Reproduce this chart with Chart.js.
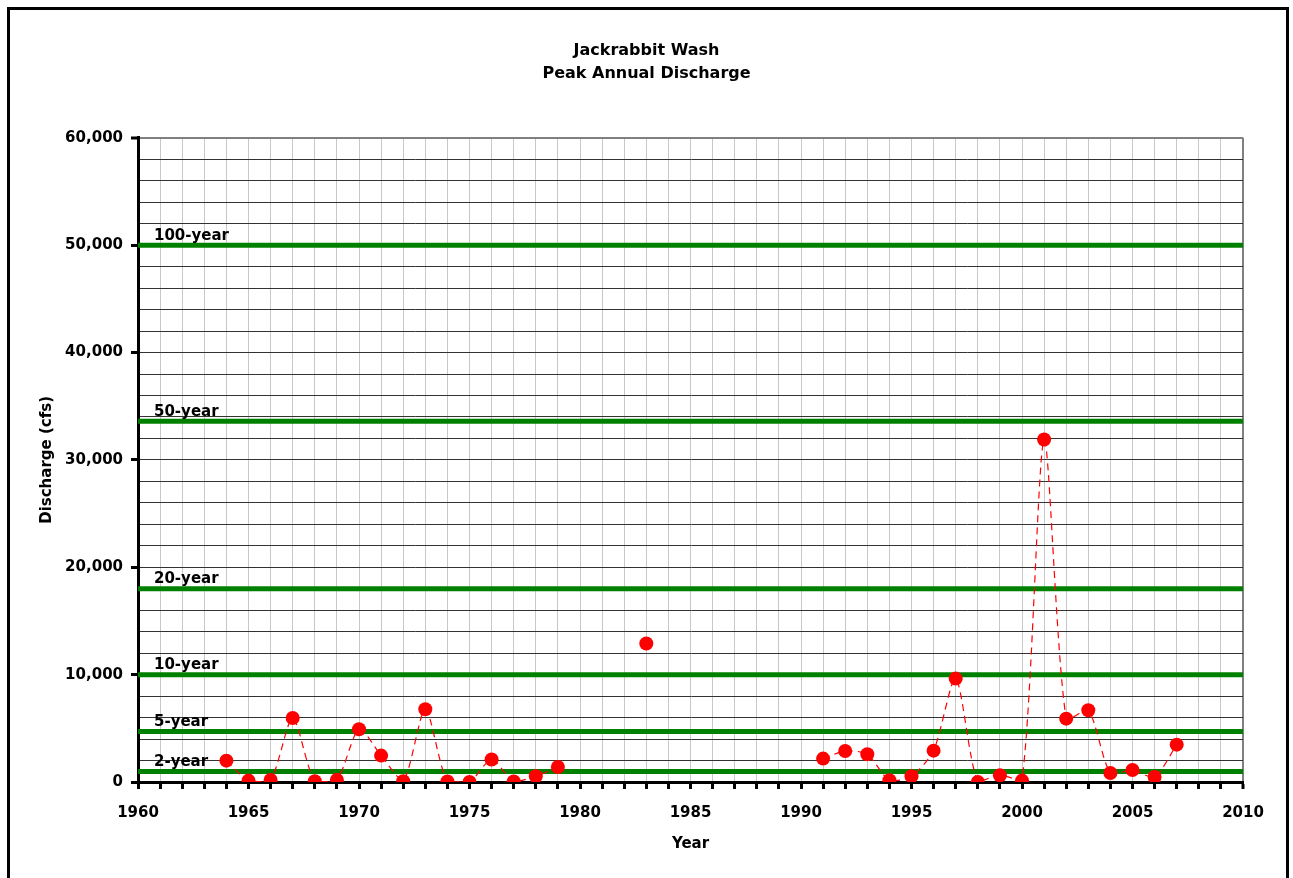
<!DOCTYPE html>
<html>
<head>
<meta charset="utf-8">
<title>Jackrabbit Wash - Peak Annual Discharge</title>
<script src="https://cdn.jsdelivr.net/npm/chart.js@4.4.1/dist/chart.umd.min.js"></script>
<style>
    html, body { margin: 0; padding: 0; background: #fff; overflow: hidden; }
    #wrap { position: absolute; left: 0; top: 0; width: 1293px; height: 878px; }
    #frame { position: absolute; left: 7px; top: 7px; width: 1282px; height: 900px; border: 3px solid #000; box-sizing: border-box; pointer-events: none; }
</style>
</head>
<body>
<div id="wrap"><canvas id="grafico" width="1293" height="878"></canvas></div>
<div id="frame"></div>
<script>
// valores (cfs); null = ano sem registro
const years = [1964, 1965, 1966, 1967, 1968, 1969, 1970, 1971, 1972, 1973, 1974, 1975, 1976, 1977, 1978, 1979,
    1980, 1981, 1982, 1983, 1984, 1985, 1986, 1987, 1988, 1989, 1990,
    1991, 1992, 1993, 1994, 1995, 1996, 1997, 1998, 1999, 2000, 2001, 2002, 2003, 2004, 2005, 2006, 2007];
const discharge = [1990, 130, 190, 5960, 70, 200, 4910, 2460, 70, 6770, 40, 0, 2090, 40, 530, 1400,
    null, null, null, 12900, null, null, null, null, null, null, null,
    2180, 2890, 2580, 160, 530, 2920, 9630, 0, 620, 130, 31900, 5900, 6680, 840, 1120, 470, 3480];

const returnLabels = ["2-year", "5-year", "10-year", "20-year", "50-year", "100-year"];
const returnFlows = [970, 4700, 10000, 18000, 33600, 50000];

const yearMin = 1960, yearMax = 2010;
const fonte = "'DejaVu Sans', 'Liberation Sans', Arial, sans-serif";

document.addEventListener("DOMContentLoaded", function () {
    let datasets = [{
        label: "Peak discharge",
        data: years.map((y, i) => ({ x: y, y: discharge[i] })),
        borderColor: "#ff0000",
        borderWidth: 1.2,
        borderDash: [7, 5],
        tension: 0.25,
        spanGaps: false,
        pointRadius: 7,
        pointBackgroundColor: "#ff0000",
        pointBorderWidth: 0,
        order: 0
    }];

    returnFlows.forEach((v, i) => {
        datasets.push({
            label: returnLabels[i],
            data: [{ x: yearMin, y: v }, { x: yearMax, y: v }],
            borderColor: "#008000",
            borderWidth: 5,
            pointRadius: 0,
            order: 1
        });
    });

    // rotulos das linhas de recorrencia
    const rotulos = {
        id: "rotulos",
        afterDatasetsDraw(chart) {
            const c = chart.ctx, xs = chart.scales.x, ys = chart.scales.y;
            c.save();
            c.font = "bold 15px " + fonte;
            c.fillStyle = "#000";
            c.textBaseline = "bottom";
            c.textAlign = "left";
            returnFlows.forEach((v, i) => {
                c.fillText(returnLabels[i], xs.getPixelForValue(yearMin) + 16, ys.getPixelForValue(v) - 2);
            });
            c.restore();
        }
    };

    let ctx = document.getElementById("grafico").getContext("2d");
    new Chart(ctx, {
        type: "line",
        data: { datasets: datasets },
        plugins: [rotulos],
        options: {
            responsive: false,
            animation: false,
            layout: { padding: 0 },
            plugins: {
                legend: { display: false },
                tooltip: { enabled: false },
                title: {
                    display: true,
                    text: ["Jackrabbit Wash", "Peak Annual Discharge"],
                    color: "#000",
                    font: { family: fonte, size: 16, weight: "bold", lineHeight: 1.4 },
                    padding: { top: 40, bottom: 53 }
                }
            },
            scales: {
                x: {
                    type: "linear",
                    min: yearMin,
                    max: yearMax,
                    afterFit: s => { s.height = 96; },
                    border: { color: "#000", width: 3 },
                    grid: {
                        color: c => c.tick && c.tick.value === yearMax ? "#808080" : "#c8c8c8",
                        lineWidth: c => c.tick && c.tick.value === yearMax ? 2 : 1,
                        tickColor: "#000",
                        tickWidth: 3,
                        tickLength: 7
                    },
                    ticks: {
                        stepSize: 1,
                        autoSkip: false,
                        maxTicksLimit: 200,
                        maxRotation: 0,
                        padding: 15,
                        color: "#000",
                        font: { family: fonte, size: 15, weight: "bold" },
                        callback: v => (v % 5 === 0 ? String(v) : "")
                    },
                    title: {
                        display: true,
                        text: "Year",
                        color: "#000",
                        font: { family: fonte, size: 15, weight: "bold" },
                        padding: { top: 0, bottom: 25 }
                    }
                },
                y: {
                    min: 0,
                    max: 60000,
                    afterFit: s => { s.width = 138; },
                    border: { color: "#000", width: 3 },
                    grid: {
                        color: c => c.tick && c.tick.value === 60000 ? "#808080" : "#333",
                        lineWidth: c => c.tick && c.tick.value === 60000 ? 2 : 1,
                        tickColor: c => c.tick && c.tick.value % 10000 === 0 ? "#000" : "rgba(0,0,0,0)",
                        tickWidth: 3,
                        tickLength: 7
                    },
                    ticks: {
                        stepSize: 2000,
                        autoSkip: false,
                        maxTicksLimit: 200,
                        padding: 8,
                        color: "#000",
                        font: { family: fonte, size: 15, weight: "bold" },
                        callback: v => (v % 10000 === 0 ? v.toLocaleString("en-US") : "")
                    },
                    title: {
                        display: true,
                        text: "Discharge (cfs)",
                        color: "#000",
                        font: { family: fonte, size: 15, weight: "bold" },
                        padding: { top: 38, bottom: 0 }
                    }
                },
                // eixo vazio so para reservar a margem direita
                margem: {
                    position: "right",
                    afterFit: s => { s.width = 50; },
                    grid: { display: false },
                    border: { display: false },
                    ticks: { display: false }
                }
            }
        }
    });
});
</script>
</body>
</html>
